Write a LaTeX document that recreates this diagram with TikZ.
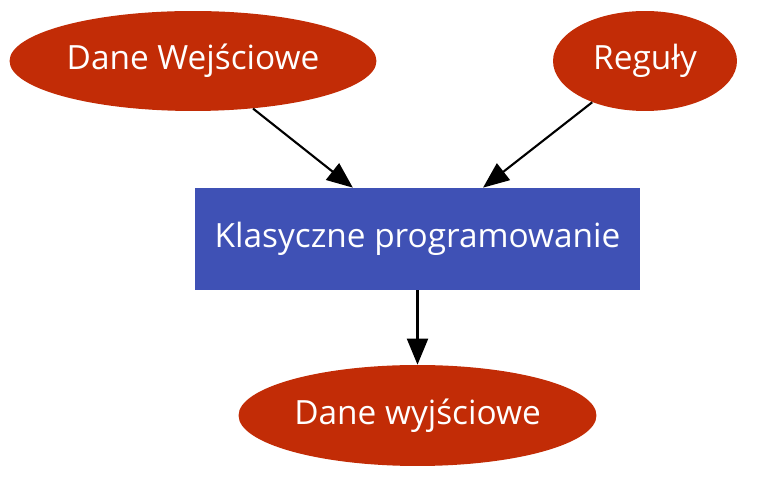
\documentclass[tikz,border=0pt]{standalone}
\usepackage{fontspec}
\setmainfont{Open Sans}
\usetikzlibrary{shapes.geometric,arrows.meta}
\definecolor{ovalred}{HTML}{C22C06}
\definecolor{boxblue}{HTML}{3F51B5}
\begin{document}
\begin{tikzpicture}[x=.02cm, y=-.02cm, font=\fontsize{19}{22}\selectfont,
  oval/.style={ellipse, fill=ovalred, text=white, inner sep=0pt},
  prog/.style={rectangle, fill=boxblue, text=white, inner sep=0pt,
    minimum width=8.9cm, minimum height=2.04cm},
  flow/.style={-{Triangle[length=0.52cm,width=0.42cm]}, line width=1.2pt}]

\useasboundingbox (0,0) rectangle (761,492);

\node[oval, minimum width=7.34cm, minimum height=2cm] (wej) at (193,61) {Dane Wejściowe};
\node[oval, minimum width=3.68cm, minimum height=2cm] (reg) at (645,61) {Reguły};

\node[prog] (klas) at (417.5,239) {Klasyczne programowanie};

\node[oval, minimum width=7.16cm, minimum height=2.02cm] (wyj) at (417.5,415.5) {Dane wyjściowe};

\draw[flow] (wej) -- (klas);
\draw[flow] (reg) -- (klas);
\draw[flow] (klas) -- (wyj);
\end{tikzpicture}
\end{document}
